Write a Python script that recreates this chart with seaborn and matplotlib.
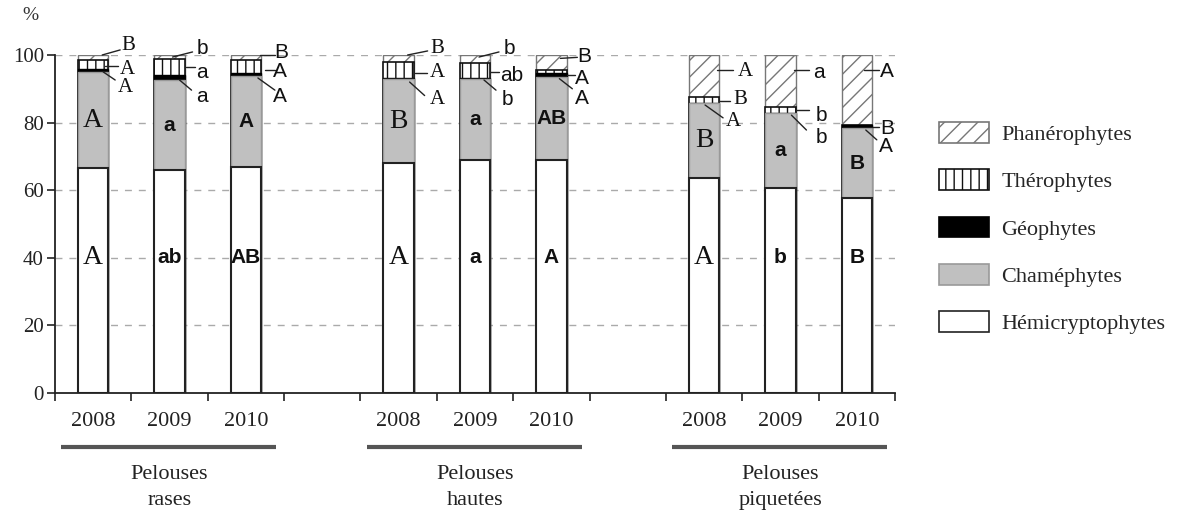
import matplotlib
matplotlib.use("Agg")
import matplotlib.pyplot as plt
import matplotlib.patches as mpatches
from matplotlib.transforms import blended_transform_factory
import numpy as np
import pandas as pd
import seaborn as sns

# data (percent of species per life form)
groups = ["Pelouses\nrases", "Pelouses\nhautes", "Pelouses\npiquetées"]
years = ["2008", "2009", "2010"]

hemi = [66.5, 66.0, 67.0, 68.0, 69.0, 69.0, 63.6, 60.6, 57.7]
chame = [28.5, 26.5, 26.9, 24.8, 24.0, 24.6, 22.1, 22.1, 20.6]
geo = [0.8, 1.6, 0.7, 0.4, 0.2, 1.0, 0.1, 0.1, 1.0]
thero = [2.7, 4.6, 3.9, 4.8, 4.3, 1.0, 1.7, 1.8, 0.1]
phan = [1.5, 1.3, 1.5, 2.0, 2.5, 4.4, 12.5, 15.4, 20.6]

hemi_letters = ["A", "ab", "AB", "A", "a", "A", "A", "b", "B"]
chame_letters = ["A", "a", "A", "B", "a", "AB", "B", "a", "B"]
phan_letters = ["B", "b", "B", "B", "b", "B", "A", "a", "A"]
thero_letters = ["A", "a", "A", "A", "ab", "A", "B", "b", "B"]
geo_letters = ["A", "a", "A", "A", "b", "A", "A", "b", "A"]

# label layout: (text dx px, text y, line x0 px, line y0, line x1 px, line y1)
ann_layout = [
    [(35, 102.7, 9, 100, 27, 101.5), (34, 95.6, 12, 96.7, 25, 96.7), (32, 90.5, 10, 95, 22, 92.6)],
    [(33, 102, 3, 99.4, 23, 100.9), (32, 94.7, 16, 96.4, 25, 96.4), (32, 87.6, 10, 92.6, 22, 89.6)],
    [(35, 100.6, 14, 100, 29, 100), (34, 95, 19, 95.6, 29, 95.6), (34, 87.6, 12, 93.2, 29, 89.6)],
    [(39, 102, 9, 100, 29, 101.2), (39, 94.7, 16, 94.7, 28, 94.7), (39, 86.7, 11, 92, 26, 88)],
    [(34, 102, 4, 99.4, 24, 100.9), (37, 94, 15, 95, 24, 95), (32, 86.7, 9, 92.6, 21, 89.6)],
    [(33, 99.6, 9, 99.0, 26, 99.3), (31, 93.0, 16, 94.2, 24, 94.2), (31, 87.0, 8, 93.0, 21, 90.0)],
    [(41, 95, 13, 95.6, 29, 95.6), (36, 86.7, 15, 86.5, 26, 86.5), (29, 80.2, 1, 85.2, 19, 81.4)],
    [(39, 94.7, 14, 95.6, 29, 95.6), (41, 82.2, 16, 83.7, 29, 83.7), (41, 75.7, 11, 82.2, 26, 77.8)],
    [(30, 95, 7, 95.6, 22, 95.6), (30, 78.4, 15, 78.7, 22, 78.7), (29, 72.8, 9, 77.8, 20, 74.9)],
]

SERIF = "Liberation Serif"
SANS = "Liberation Sans"
SLOT_PX = 76.4

order = []
for g in range(3):
    order += [f"{g}-{y}" for y in years]
    if g < 2:
        order.append(f"gap{g}")
slots = [f"{g}-{y}" for g in range(3) for y in years]

df = pd.DataFrame({"slot": slots, "hemi": hemi, "chame": chame, "geo": geo,
                   "thero": thero, "phan": phan})
df["top_hemi"] = df["hemi"]
df["top_chame"] = df["top_hemi"] + df["chame"]
df["top_geo"] = df["top_chame"] + df["geo"]
df["top_thero"] = df["top_geo"] + df["thero"]
df["top_phan"] = df["top_thero"] + df["phan"]

sns.set_theme(style="white")
plt.rcParams["font.family"] = [SERIF, "DejaVu Serif"]
plt.rcParams["hatch.linewidth"] = 1.0

fig = plt.figure(figsize=(11.95, 5.13), dpi=100)
ax = fig.add_axes([55 / 1195, 1 - 393 / 513, 840 / 1195, 338 / 513])

layers = [
    ("top_phan", dict(color="white", edgecolor="#777777", hatch="//", linewidth=1)),
    ("top_thero", dict(color="white", edgecolor="#111111", hatch="||", linewidth=1.2)),
    ("top_geo", dict(color="black", edgecolor="black", linewidth=1)),
    ("top_chame", dict(color="#c0c0c0", edgecolor="#999999", linewidth=1)),
    ("top_hemi", dict(color="white", edgecolor="#222222", linewidth=1.5)),
]
for col, style in layers:
    sns.barplot(data=df, x="slot", y=col, order=order, width=0.4, saturation=1,
                errorbar=None, ax=ax, **style)

ax.set_xlim(-0.5, 10.5)
ax.set_ylim(0, 100)
ax.set_xlabel("")
ax.set_ylabel("")

for y in range(20, 101, 20):
    ax.axhline(y, color="#aaaaaa", lw=1, ls=(0, (5, 5)), zorder=0)

for s in ["top", "right"]:
    ax.spines[s].set_visible(False)
for s in ["left", "bottom"]:
    ax.spines[s].set_color("#222222")
    ax.spines[s].set_linewidth(1.3)

xpos = [order.index(s) for s in slots]
ax.set_xticks(range(len(order)))
ax.set_xticklabels([s.split("-")[1] if "-" in s else "" for s in order],
                   fontfamily=SERIF, fontsize=16, color="#222222")
ax.set_xticks(np.arange(-0.5, len(order), 1), minor=True)
ax.tick_params(axis="x", which="major", length=0, pad=14)
ax.tick_params(axis="x", which="minor", length=6, width=1.2, color="#222222", direction="out", bottom=True)
ax.set_yticks(range(0, 101, 20))
ax.set_yticklabels([str(v) for v in range(0, 101, 20)], fontfamily=SERIF, fontsize=15, color="#222222")
ax.tick_params(axis="y", length=6, width=1.2, color="#222222", direction="out", left=True, pad=2)

fig.text(30 / 1195, 1 - 16 / 513, "%", ha="center", va="center", fontsize=14, family=SERIF, color="#333333")

# letters inside the bars
for i, x in enumerate(xpos):
    serif = (i % 3 == 0)
    fam = SERIF if serif else SANS
    kw = dict(ha="center", va="center", family=fam, color="#111111")
    size_in = 20 if serif else 15
    weight = "normal" if serif else "bold"
    ax.text(x, 40, hemi_letters[i], fontsize=size_in, fontweight=weight, **kw)
    ax.text(x, (df["top_hemi"][i] + df["top_chame"][i]) / 2, chame_letters[i],
            fontsize=size_in, fontweight=weight, **kw)
    for letter, (tdx, ty, x0, y0, x1, y1) in zip(
            [phan_letters[i], thero_letters[i], geo_letters[i]], ann_layout[i]):
        ax.plot([x + x0 / SLOT_PX, x + x1 / SLOT_PX], [y0, y1], color="#222222", lw=1, clip_on=False)
        ax.text(x + tdx / SLOT_PX, ty, letter, fontsize=15, clip_on=False, **kw)

# group underlines and names
trans = blended_transform_factory(ax.transData, ax.transAxes)
for g, name in enumerate(groups):
    start = order.index(f"{g}-2008")
    ax.plot([start - 0.42, start + 2.4], [-0.16, -0.16], color="#555555", lw=3,
            transform=trans, clip_on=False, solid_capstyle="butt")
    ax.text(start + 1, -0.214, name, transform=trans, ha="center", va="top",
            fontsize=16, family=SERIF, linespacing=1.5, color="#222222")

legend_items = [
    ("Phanérophytes", layers[0][1]),
    ("Thérophytes", layers[1][1]),
    ("Géophytes", layers[2][1]),
    ("Chaméphytes", layers[3][1]),
    ("Hémicryptophytes", layers[4][1]),
]
handles = []
for label, st in legend_items:
    handles.append(mpatches.Patch(facecolor=st["color"], edgecolor=st["edgecolor"],
                                  hatch=st.get("hatch"), linewidth=1.2, label=label))
fig.legend(handles=handles, loc="upper left", bbox_to_anchor=(939 / 1195, 1 - 122 / 513),
           frameon=False, prop={"family": SERIF, "size": 16}, handlelength=2.25,
           handleheight=1.05, labelspacing=1.1, handletextpad=0.55,
           borderpad=0, borderaxespad=0)

fig.savefig("out.png", dpi=100, facecolor="white")
